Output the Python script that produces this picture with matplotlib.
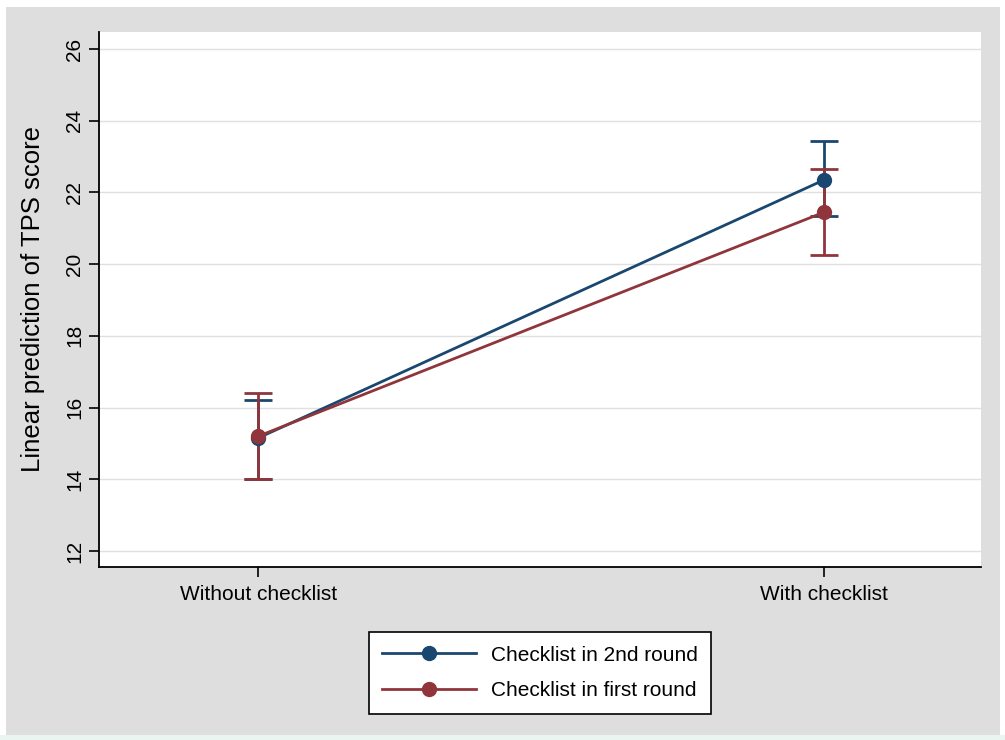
import matplotlib.pyplot as plt
from matplotlib.patches import Rectangle
from matplotlib.lines import Line2D

plt.rcParams['font.family'] = ['Liberation Sans', 'DejaVu Sans']

conditions = ["Without checklist", "With checklist"]
series = ["Checklist in 2nd round", "Checklist in first round"]
means_2nd = [15.15, 22.35]
lo_2nd = [14.02, 21.33]
hi_2nd = [16.21, 23.44]
means_first = [15.20, 21.45]
lo_first = [14.02, 20.26]
hi_first = [16.40, 22.65]
colors = ["#1a476f", "#90353b"]

fig = plt.figure(figsize=(10.05, 7.4), dpi=100)
fig.patch.set_facecolor("white")
# stata-style grey graph region
fig.patches.append(Rectangle((6 / 1005, 5 / 740), 994 / 1005, 728 / 740,
                             transform=fig.transFigure, facecolor="#dedede",
                             edgecolor="none", zorder=-10))
fig.patches.append(Rectangle((0, 0), 1, 5 / 740, transform=fig.transFigure,
                             facecolor="#eaf4f0", edgecolor="none", zorder=-10))

ax = fig.add_axes([99 / 1005, 173 / 740, 882 / 1005, 535 / 740])
ax.set_facecolor("white")

x = range(len(conditions))
handles = []
for means, lo, hi, c, lab in [(means_2nd, lo_2nd, hi_2nd, colors[0], series[0]),
                              (means_first, lo_first, hi_first, colors[1], series[1])]:
    err = [[m - l for m, l in zip(means, lo)], [h - m for m, h in zip(means, hi)]]
    ax.errorbar(x, means, yerr=err, color=c, lw=2, marker="o", ms=10,
                capsize=10, capthick=2, elinewidth=2, zorder=3)
    handles.append(Line2D([], [], color=c, lw=2, marker="o", ms=10, label=lab))

ax.set_xlim(-0.281, 1.277)
ax.set_ylim(11.554, 26.474)
ax.set_yticks(range(12, 27, 2))
ax.set_xticks(list(x))
ax.set_xticklabels(conditions, fontsize=15)
ax.tick_params(axis="y", labelsize=15, labelrotation=90, length=7, width=1.2)
ax.tick_params(axis="x", length=7, width=1.2, pad=6)
for t in ax.get_yticklabels():
    t.set_va("center")
ax.grid(axis="y", color="#e0e0e0", lw=1)
ax.set_axisbelow(True)
for s in ["top", "right"]:
    ax.spines[s].set_visible(False)
for s in ["left", "bottom"]:
    ax.spines[s].set_linewidth(1.3)
ax.set_ylabel("Linear prediction of TPS score", fontsize=18.5, labelpad=15)

leg = ax.legend(handles=handles, loc="upper center", bbox_to_anchor=(0.5, -0.1215),
                fontsize=15, fancybox=False, edgecolor="black", framealpha=1,
                handlelength=4.5, borderpad=0.65, handletextpad=0.7,
                labelspacing=0.8, borderaxespad=0)
leg.get_frame().set_linewidth(1.2)

fig.savefig("out.png", dpi=100)
